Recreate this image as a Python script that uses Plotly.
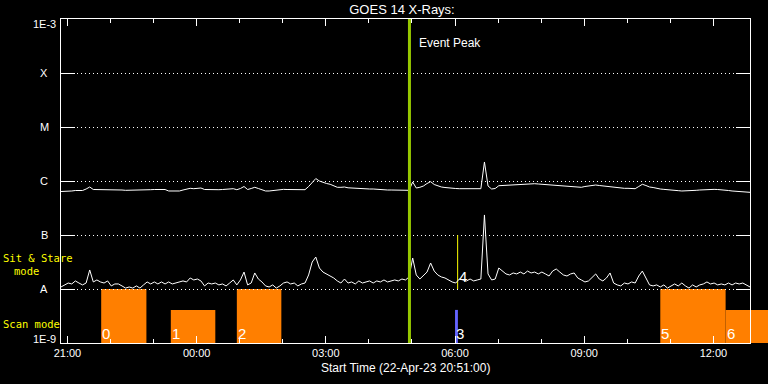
import math
import pandas as pd
import plotly.graph_objects as go

# ---------------- data ----------------
START = "2023-04-22 20:51:00"
END = "2023-04-23 12:51:00"
EVENT_PEAK = "2023-04-23 04:56:30"
SAMPLE_STEP = "5min"

# GOES 14 1-8 A flux, units of 1e-7 W/m^2, one value every 5 minutes from START
LONG_FLUX_E7 = [
    6.39, 6.39, 6.53, 6.53, 6.67, 6.67, 6.67, 7.11, 7.74, 6.96,
    6.96, 6.96, 7.00, 7.00, 6.96, 6.81, 6.81, 6.81, 6.72, 6.72,
    6.72, 6.72, 6.72, 6.72, 6.90, 6.90, 6.96, 6.96, 7.00, 6.96,
    6.53, 6.53, 6.53, 6.53, 6.81, 7.11, 7.32, 7.20, 7.32, 7.42,
    6.96, 6.90, 6.90, 6.90, 6.90, 6.96, 7.05, 7.11, 7.20, 6.90,
    7.26, 7.91, 6.96, 7.26, 7.64, 7.26, 6.96, 6.53, 6.53, 6.67,
    6.81, 6.96, 7.00, 6.96, 6.96, 6.96, 6.90, 6.90, 6.90, 7.91,
    9.38, 11.1, 10.0, 9.38, 8.99, 8.70, 8.25, 7.64, 7.64, 7.74,
    7.48, 7.42, 7.26, 7.11, 7.11, 7.11, 7.11, 7.11, 7.00, 6.96,
    6.90, 6.81, 6.81, 6.81, 6.75, 6.72, 6.72, 6.72, 9.58, 7.42,
    7.64, 8.08, 8.99, 9.72, 8.61, 8.08, 7.74, 7.58, 7.42, 7.32,
    7.26, 7.20, 7.20, 7.20, 7.20, 7.20, 7.20, 7.20, 22.5, 8.08,
    7.11, 7.26, 8.18, 8.25, 8.25, 8.32, 8.43, 8.43, 8.61, 8.80,
    8.91, 8.91, 8.91, 8.80, 8.69, 8.69, 8.61, 8.43, 8.25, 8.08,
    8.08, 7.91, 7.91, 7.74, 7.64, 7.64, 7.91, 8.08, 8.25, 8.43,
    8.25, 8.08, 8.08, 7.84, 7.74, 7.58, 7.42, 7.32, 7.32, 7.26,
    7.20, 7.91, 8.69, 8.25, 7.74, 7.58, 7.26, 7.11, 7.00, 6.96,
    6.81, 6.67, 6.62, 6.53, 6.53, 6.53, 6.62, 6.72, 6.81, 6.90,
    6.96, 7.00, 7.00, 6.96, 6.90, 6.90, 6.67, 6.53, 6.45, 6.39,
    6.34, 6.25, 6.17,
]

# GOES 14 0.5-4 A flux, units of 1e-8 W/m^2, one value every 5 minutes from START
SHORT_FLUX_E8 = [
    1.09, 1.19, 1.29, 1.24, 1.41, 1.29, 1.19, 1.29, 2.25, 1.35,
    1.47, 1.35, 1.29, 1.41, 1.14, 1.24, 1.24, 1.14, 1.04, 1.09,
    1.04, 1.14, 1.04, 1.19, 1.35, 1.24, 1.35, 1.24, 1.35, 1.24,
    1.35, 1.24, 1.29, 1.35, 1.41, 1.35, 1.60, 1.47, 1.53, 1.41,
    1.14, 1.29, 1.24, 1.29, 1.19, 1.24, 1.14, 1.29, 1.47, 1.19,
    1.47, 2.06, 1.19, 1.29, 1.98, 1.53, 1.35, 1.14, 1.09, 1.19,
    1.04, 1.14, 1.29, 1.35, 1.24, 1.29, 1.14, 1.24, 1.29, 1.82,
    3.16, 3.91, 2.45, 2.06, 1.90, 1.74, 1.60, 1.41, 1.29, 1.53,
    1.29, 1.35, 1.24, 1.41, 1.29, 1.35, 1.41, 1.29, 1.41, 1.35,
    1.47, 1.35, 1.41, 1.47, 1.41, 1.53, 1.47, 1.67, 3.75, 1.82,
    1.53, 1.74, 2.06, 3.03, 2.15, 1.82, 1.67, 1.60, 1.47, 1.35,
    1.29, 1.53, 1.47, 1.41, 1.53, 1.41, 1.47, 1.53, 23.5, 1.90,
    1.47, 1.53, 2.45, 2.15, 1.90, 1.82, 1.98, 1.90, 2.06, 1.90,
    2.15, 1.98, 2.06, 1.90, 2.06, 1.90, 1.74, 2.15, 2.35, 2.06,
    1.82, 1.74, 1.90, 1.98, 1.60, 1.47, 1.35, 1.41, 1.67, 1.90,
    1.53, 1.41, 1.60, 1.98, 1.29, 1.19, 1.14, 1.29, 1.24, 1.35,
    1.29, 1.74, 2.15, 1.60, 1.19, 1.14, 1.19, 1.09, 1.19, 1.04,
    1.14, 1.24, 1.14, 1.29, 1.14, 1.04, 1.19, 1.09, 1.19, 1.24,
    1.35, 1.24, 1.29, 1.19, 1.24, 1.19, 1.29, 1.19, 1.29, 1.24,
    1.29, 1.19, 1.09,
]

# flux class levels (y ticks)
LEVEL_VALUES = [1e-9, 1e-8, 1e-7, 1e-6, 1e-5, 1e-4, 1e-3]
LEVEL_LABELS = ["1E-9", "A", "B", "C", "M", "X", "1E-3"]

# x ticks
MAJOR_TICKS = ["2023-04-22 21:00", "2023-04-23 00:00", "2023-04-23 03:00",
               "2023-04-23 06:00", "2023-04-23 09:00", "2023-04-23 12:00"]
MINOR_TICK_FIRST = "2023-04-22 21:00"
MINOR_TICK_LAST = "2023-04-23 12:00"

# observation blocks
OBS_LABELS = ["0", "1", "2", "3", "5", "6"]
OBS_START = ["2023-04-22 21:47", "2023-04-22 23:24", "2023-04-23 00:56",
             "2023-04-23 06:00", "2023-04-23 10:46", "2023-04-23 12:17"]
OBS_END = ["2023-04-22 22:50", "2023-04-23 00:26", "2023-04-23 01:58",
           "2023-04-23 06:04", "2023-04-23 12:17", "2023-04-23 13:30"]
OBS_MODE = ["Sit & Stare", "Scan", "Sit & Stare", "Scan", "Sit & Stare", "Scan"]
MODE_TOP = {"Sit & Stare": 1e-8, "Scan": 4.1e-9}
OBS_BASE = 1e-9

# observation 4 (marker between A and B)
OBS4_LABEL = "4"
OBS4_TIME = "2023-04-23 06:03:40"
OBS4_LOW = 1e-8
OBS4_HIGH = 1e-7

# ---------------- layout / styles ----------------
FONT = "Liberation Sans"
MONO = "DejaVu Sans Mono"
ORANGE = "#ff7f00"
BLUE = "#6464ff"
EVENT_GREEN = "#96c800"
SPECIAL_COLORS = {"3": BLUE}

MARGIN_L, MARGIN_T, MARGIN_B = 61, 19, 41
FIG_W, FIG_H = 768, 384
MAIN_W = 689                      # width of the framed plot box (px)
FULL_W = FIG_W - MARGIN_L         # width available to the observation strip
MAIN_FRAC = MAIN_W / FULL_W

def px_x(p):
    """paper x-fraction for a pixel column"""
    return (p - MARGIN_L) / FULL_W

def px_y(p):
    """paper y-fraction for a pixel row"""
    return (FIG_H - MARGIN_B - p) / (FIG_H - MARGIN_T - MARGIN_B)

times = pd.date_range(START, periods=len(LONG_FLUX_E7), freq=SAMPLE_STEP)
long_flux = [v * 1e-7 for v in LONG_FLUX_E7]
short_flux = [v * 1e-8 for v in SHORT_FLUX_E8]

t_start, t_end = pd.Timestamp(START), pd.Timestamp(END)
strip_end = t_start + (t_end - t_start) / MAIN_FRAC

starts = pd.to_datetime(OBS_START)
ends = pd.to_datetime(OBS_END)
mids = starts + (ends - starts) / 2
widths = [(e - s).total_seconds() * 1000 for s, e in zip(starts, ends)]
tops = [MODE_TOP[m] for m in OBS_MODE]
heights = [t - OBS_BASE for t in tops]
bar_colors = [SPECIAL_COLORS.get(l, ORANGE) for l in OBS_LABELS]

yrange = [math.log10(LEVEL_VALUES[0]), math.log10(LEVEL_VALUES[-1])]

fig = go.Figure()

# observation strip: subplot xy (drawn first, may run past the frame)
fig.add_trace(go.Bar(
    x=mids, y=heights, base=OBS_BASE, width=widths,
    marker=dict(color=bar_colors, line=dict(width=0)),
    hoverinfo="skip", showlegend=False, xaxis="x", yaxis="y",
))

# main framed subplot x2y2
fig.add_trace(go.Scatter(
    x=[OBS4_TIME, OBS4_TIME], y=[OBS4_LOW, OBS4_HIGH], mode="lines",
    line=dict(color="#ffff00", width=1), showlegend=False, hoverinfo="skip",
    xaxis="x2", yaxis="y2",
))
fig.add_trace(go.Scatter(
    x=times, y=long_flux, mode="lines",
    line=dict(color="white", width=1), showlegend=False, xaxis="x2", yaxis="y2",
))
fig.add_trace(go.Scatter(
    x=times, y=short_flux, mode="lines",
    line=dict(color="white", width=1), showlegend=False, xaxis="x2", yaxis="y2",
))
fig.add_trace(go.Scatter(
    x=[EVENT_PEAK, EVENT_PEAK], y=[LEVEL_VALUES[0], LEVEL_VALUES[-1]], mode="lines",
    line=dict(color=EVENT_GREEN, width=3), showlegend=False, hoverinfo="skip",
    xaxis="x2", yaxis="y2",
))

annotations = []
for i, (v, lab) in enumerate(zip(LEVEL_VALUES, LEVEL_LABELS)):
    shift = 0
    if i == 0:
        shift = 4
    elif i == len(LEVEL_VALUES) - 1:
        shift = -5
    annotations.append(dict(
        x=px_x(44), xref="paper", y=math.log10(v), yref="y2", text=lab,
        showarrow=False, xanchor="center", yanchor="middle", yshift=shift,
        font=dict(family=FONT, size=11, color="white"),
    ))

for lab, s in zip(OBS_LABELS, OBS_START):
    annotations.append(dict(
        x=s, xref="x", y=math.log10(OBS_BASE), yref="y", text=lab,
        showarrow=False, xanchor="left", yanchor="bottom", xshift=-1, yshift=-1,
        font=dict(family=FONT, size=15, color="white"),
    ))
annotations.append(dict(
    x=OBS4_TIME, xref="x2", y=math.log10(OBS4_LOW), yref="y2", text=OBS4_LABEL,
    showarrow=False, xanchor="left", yanchor="bottom", xshift=-1, yshift=2,
    font=dict(family=FONT, size=15, color="white"),
))

annotations.append(dict(
    x=EVENT_PEAK, xref="x2", y=px_y(43), yref="paper", text="Event Peak",
    showarrow=False, xanchor="left", yanchor="middle", xshift=8,
    font=dict(family=FONT, size=12, color="white"),
))

annotations.append(dict(x=px_x(1), xref="paper", y=px_y(258), yref="paper", text="Sit & Stare",
                        showarrow=False, xanchor="left", yanchor="middle",
                        font=dict(family=MONO, size=10.5, color="#ffff00")))
annotations.append(dict(x=px_x(12), xref="paper", y=px_y(270.5), yref="paper", text="mode",
                        showarrow=False, xanchor="left", yanchor="middle",
                        font=dict(family=MONO, size=10.5, color="#ffff00")))
annotations.append(dict(x=px_x(1), xref="paper", y=px_y(324), yref="paper", text="Scan mode",
                        showarrow=False, xanchor="left", yanchor="middle",
                        font=dict(family=MONO, size=10.5, color="#ffff00")))

annotations.append(dict(
    x=px_x(405), xref="paper", y=px_y(368), yref="paper",
    text="Start Time (22-Apr-23 20:51:00)", showarrow=False,
    xanchor="center", yanchor="middle",
    font=dict(family=FONT, size=12, color="white"),
))

minor_ticks = pd.date_range(MINOR_TICK_FIRST, MINOR_TICK_LAST, freq="1h")

fig.update_layout(
    width=FIG_W, height=FIG_H,
    margin=dict(l=MARGIN_L, r=0, t=MARGIN_T, b=MARGIN_B, pad=0),
    paper_bgcolor="black", plot_bgcolor="rgba(0,0,0,0)",
    barmode="overlay",
    showlegend=False,
    title=dict(text="GOES 14 X-Rays:", x=402 / FIG_W, xref="container", xanchor="center",
               y=1 - 9.5 / FIG_H, yref="container", yanchor="middle",
               font=dict(family=FONT, size=13, color="white")),
    annotations=annotations,
    xaxis=dict(type="date", range=[t_start, strip_end], domain=[0, 1],
               visible=False, fixedrange=True, anchor="y"),
    yaxis=dict(type="log", range=yrange, domain=[0, 1],
               visible=False, fixedrange=True, anchor="x"),
    xaxis2=dict(
        type="date", range=[START, END], domain=[0, MAIN_FRAC], anchor="y2",
        showline=True, linecolor="white", linewidth=1, mirror="ticks",
        ticks="inside", ticklen=7, tickcolor="white", tickwidth=1,
        tickvals=MAJOR_TICKS, tickformat="%H:%M",
        tickfont=dict(family=FONT, size=11, color="white"),
        minor=dict(tickvals=list(minor_ticks), ticks="inside", ticklen=4,
                   tickcolor="white", tickwidth=1),
        showgrid=False, zeroline=False, fixedrange=True,
    ),
    yaxis2=dict(
        type="log", range=yrange, domain=[0, 1], anchor="x2",
        showline=True, linecolor="white", linewidth=1, mirror="ticks",
        ticks="inside", ticklen=14, tickcolor="white", tickwidth=1,
        tickvals=LEVEL_VALUES, showticklabels=False,
        showgrid=True, gridcolor="white", gridwidth=1, griddash="1px,3px",
        zeroline=False, fixedrange=True,
    ),
)

fig.write_html(
    "out.html",
    config={"displayModeBar": False, "staticPlot": True},
    post_script="document.body.style.margin='0';document.body.style.background='black';",
)
